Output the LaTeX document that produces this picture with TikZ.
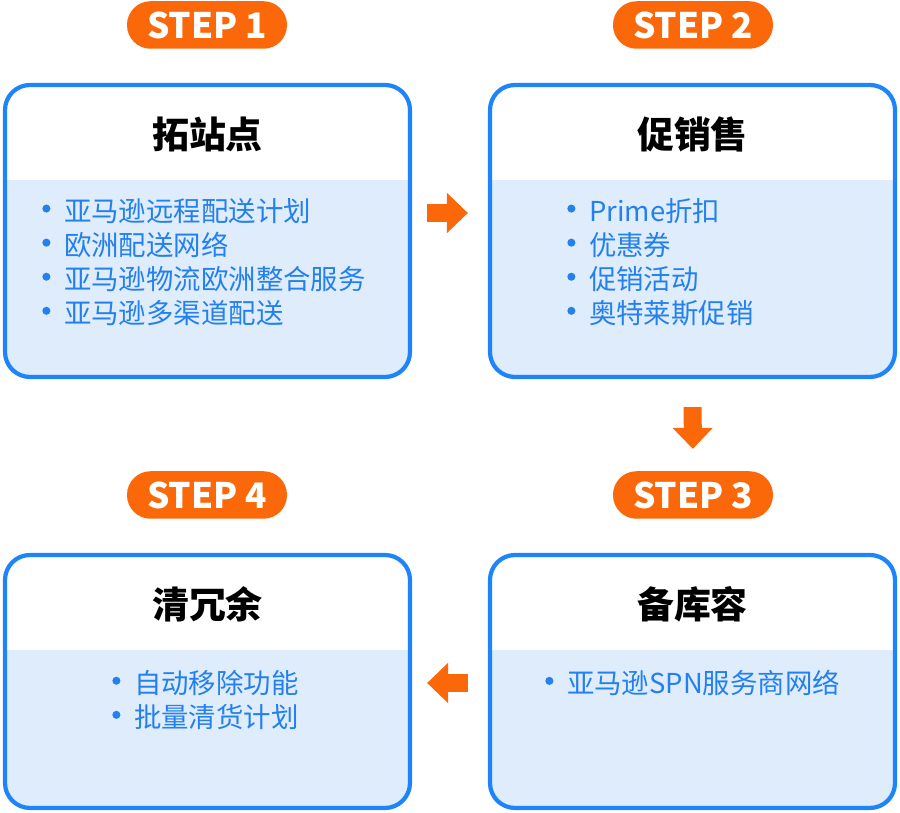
\documentclass[tikz,border=0pt]{standalone}
\usepackage{fontspec}
\setmainfont{Noto Sans CJK SC}
\usetikzlibrary{arrows.meta,positioning,calc}
\definecolor{stepcolor}{RGB}{250, 104, 10}
\definecolor{boxblue}{RGB}{30, 132, 250}
\definecolor{bodyfill}{RGB}{222, 236, 252}
\definecolor{itemblue}{RGB}{36, 128, 236}
\tikzset{
  card/.style={rectangle, draw=boxblue, line width=2.4pt, rounded corners=0.5cm, fill=white,
    minimum width=8.1cm, inner sep=0pt,
    path picture={\fill[bodyfill, sharp corners] ([yshift=-1.9cm]path picture bounding box.north west) rectangle (path picture bounding box.south east);}},
  badge/.style={rectangle, rounded corners=0.47cm, fill=stepcolor, text=white, font=\bfseries\fontsize{20}{22}\selectfont,
    minimum width=3.2cm, minimum height=0.95cm, inner sep=0pt},
  title/.style={font=\bfseries\fontsize{21}{24}\selectfont, text=black},
  items/.style={align=left, anchor=north west, text=itemblue, font=\fontsize{15.6}{19.4}\selectfont, inner sep=0pt},
  flow/.style={-{Triangle[length=0.42cm, width=0.78cm]}, line width=0.36cm, draw=stepcolor}
}
\newcommand{\itm}{\raisebox{0.32em}{\tikz\fill[itemblue] (0,0) circle (2.3pt);}\hspace{0.5em}}
\begin{document}
\begin{tikzpicture}
  \useasboundingbox (0,0) rectangle (18,16.26);
  % Cards
  \node[card, minimum height=5.84cm] (b1) at (4.15,11.64) {};
  \node[card, minimum height=5.84cm] (b2) at (13.85,11.64) {};
  \node[card, minimum height=5.06cm] (b3) at (13.85,2.63) {};
  \node[card, minimum height=5.06cm] (b4) at (4.15,2.63) {};
  % Badges
  \node[badge] (s1) at (4.14,15.76) {STEP 1};
  \node[badge] (s2) at (13.86,15.76) {STEP 2};
  \node[badge] (s3) at (13.86,6.36) {STEP 3};
  \node[badge] (s4) at (4.14,6.36) {STEP 4};
  % Titles
  \node[title, below=0.55cm of b1.north] (t1) {拓站点};
  \node[title, below=0.55cm of b2.north] (t2) {促销售};
  \node[title, below=0.55cm of b3.north] (t3) {备库容};
  \node[title, below=0.55cm of b4.north] (t4) {清冗余};
  % Items
  \node[items] (l1) at (0.84,12.3) {\itm 亚马逊远程配送计划\\ \itm 欧洲配送网络\\ \itm 亚马逊物流欧洲整合服务\\ \itm 亚马逊多渠道配送};
  \node[items] (l2) at (11.34,12.3) {\itm Prime折扣\\ \itm 优惠券\\ \itm 促销活动\\ \itm 奥特莱斯促销};
  \node[items] (l3) at (10.9,2.86) {\itm 亚马逊SPN服务商网络};
  \node[items] (l4) at (2.24,2.86) {\itm 自动移除功能\\ \itm 批量清货计划};
  % Arrows
  \draw[flow, shorten <=0.3cm, shorten >=0.4cm] ([yshift=0.36cm]b1.east) -- ([yshift=0.36cm]b2.west);
  \draw[flow, shorten <=0.56cm, shorten >=0.44cm] (b2.south) -- (s3.north);
  \draw[flow, shorten <=0.4cm, shorten >=0.3cm] ([yshift=-0.03cm]b3.west) -- ([yshift=-0.03cm]b4.east);
\end{tikzpicture}
\end{document}
